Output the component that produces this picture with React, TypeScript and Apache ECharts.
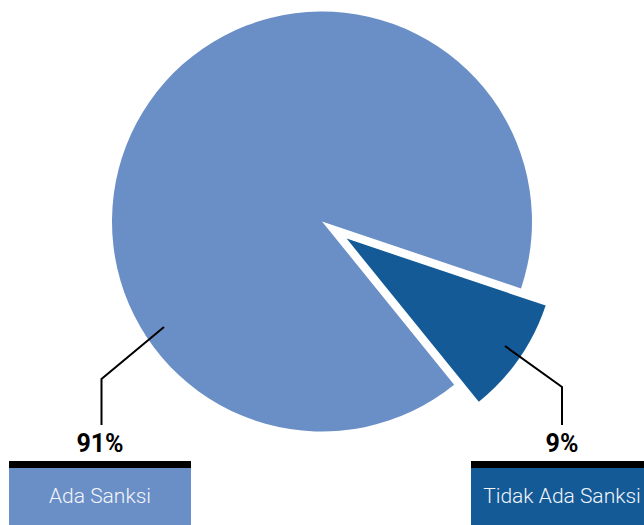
import React, { useEffect, useRef } from "react";
import * as echarts from "echarts";

const categories = ["Ada Sanksi", "Tidak Ada Sanksi"];
const values = [91, 9];
const colors = ["#6a8ec6", "#135a96"];

// annotation layout (leader lines and label blocks)
const leaderPoints = [
  [
    [164, 327],
    [101.5, 379],
    [101.5, 425],
  ],
  [
    [505, 346],
    [562, 387],
    [562, 425],
  ],
];
const blockCenters = [100, 562];
const BLOCK_W = 182;
const PCT_Y = 443;
const BAR_Y = 461;
const BAR_H = 7;
const BOX_Y = 468;
const BOX_H = 60;

export default function App() {
  const ref = useRef<HTMLDivElement>(null);
  useEffect(() => {
    if (!ref.current) return;
    const chart = echarts.init(ref.current, undefined, { renderer: "svg" });
    const total = values.reduce((a, b) => a + b, 0);
    const graphics: any[] = [];
    categories.forEach((name, i) => {
      const cx = blockCenters[i];
      const pct = Math.round((values[i] / total) * 100);
      graphics.push({
        type: "polyline",
        silent: true,
        z: 10,
        shape: { points: leaderPoints[i] },
        style: { stroke: "#000000", lineWidth: 2, fill: null },
      });
      graphics.push({
        type: "text",
        silent: true,
        z: 10,
        x: cx,
        y: PCT_Y,
        style: {
          text: `${pct}%`,
          fontFamily: "Roboto",
          fontWeight: "bold",
          fontSize: 25,
          fill: "#000000",
          align: "center",
          verticalAlign: "middle",
        },
      });
      graphics.push({
        type: "rect",
        silent: true,
        z: 10,
        shape: { x: cx - BLOCK_W / 2, y: BAR_Y, width: BLOCK_W, height: BAR_H },
        style: { fill: "#000000" },
      });
      graphics.push({
        type: "rect",
        silent: true,
        z: 10,
        shape: { x: cx - BLOCK_W / 2, y: BOX_Y, width: BLOCK_W, height: BOX_H },
        style: { fill: colors[i] },
      });
      graphics.push({
        type: "text",
        silent: true,
        z: 11,
        x: cx,
        y: 496,
        style: {
          text: name,
          fontFamily: "Roboto",
          fontWeight: 300,
          fontSize: 21,
          fill: "#f2f5fa",
          align: "center",
          verticalAlign: "middle",
        },
      });
    });
    chart.setOption({
      animation: false,
      backgroundColor: "#ffffff",
      series: [
        {
          type: "pie",
          center: [322, 221.5],
          radius: 210,
          startAngle: 309,
          clockwise: true,
          selectedMode: "single",
          selectedOffset: 30,
          silent: true,
          emphasis: { disabled: true },
          label: { show: false },
          labelLine: { show: false },
          data: categories.map((name, i) => ({
            name,
            value: values[i],
            selected: i === 1,
            itemStyle: { color: colors[i] },
          })),
        },
      ],
      graphic: graphics,
    });
    return () => chart.dispose();
  }, []);
  return (
    <div
      ref={ref}
      style={{ position: "absolute", left: 0, top: 0, width: 644, height: 525 }}
    />
  );
}
